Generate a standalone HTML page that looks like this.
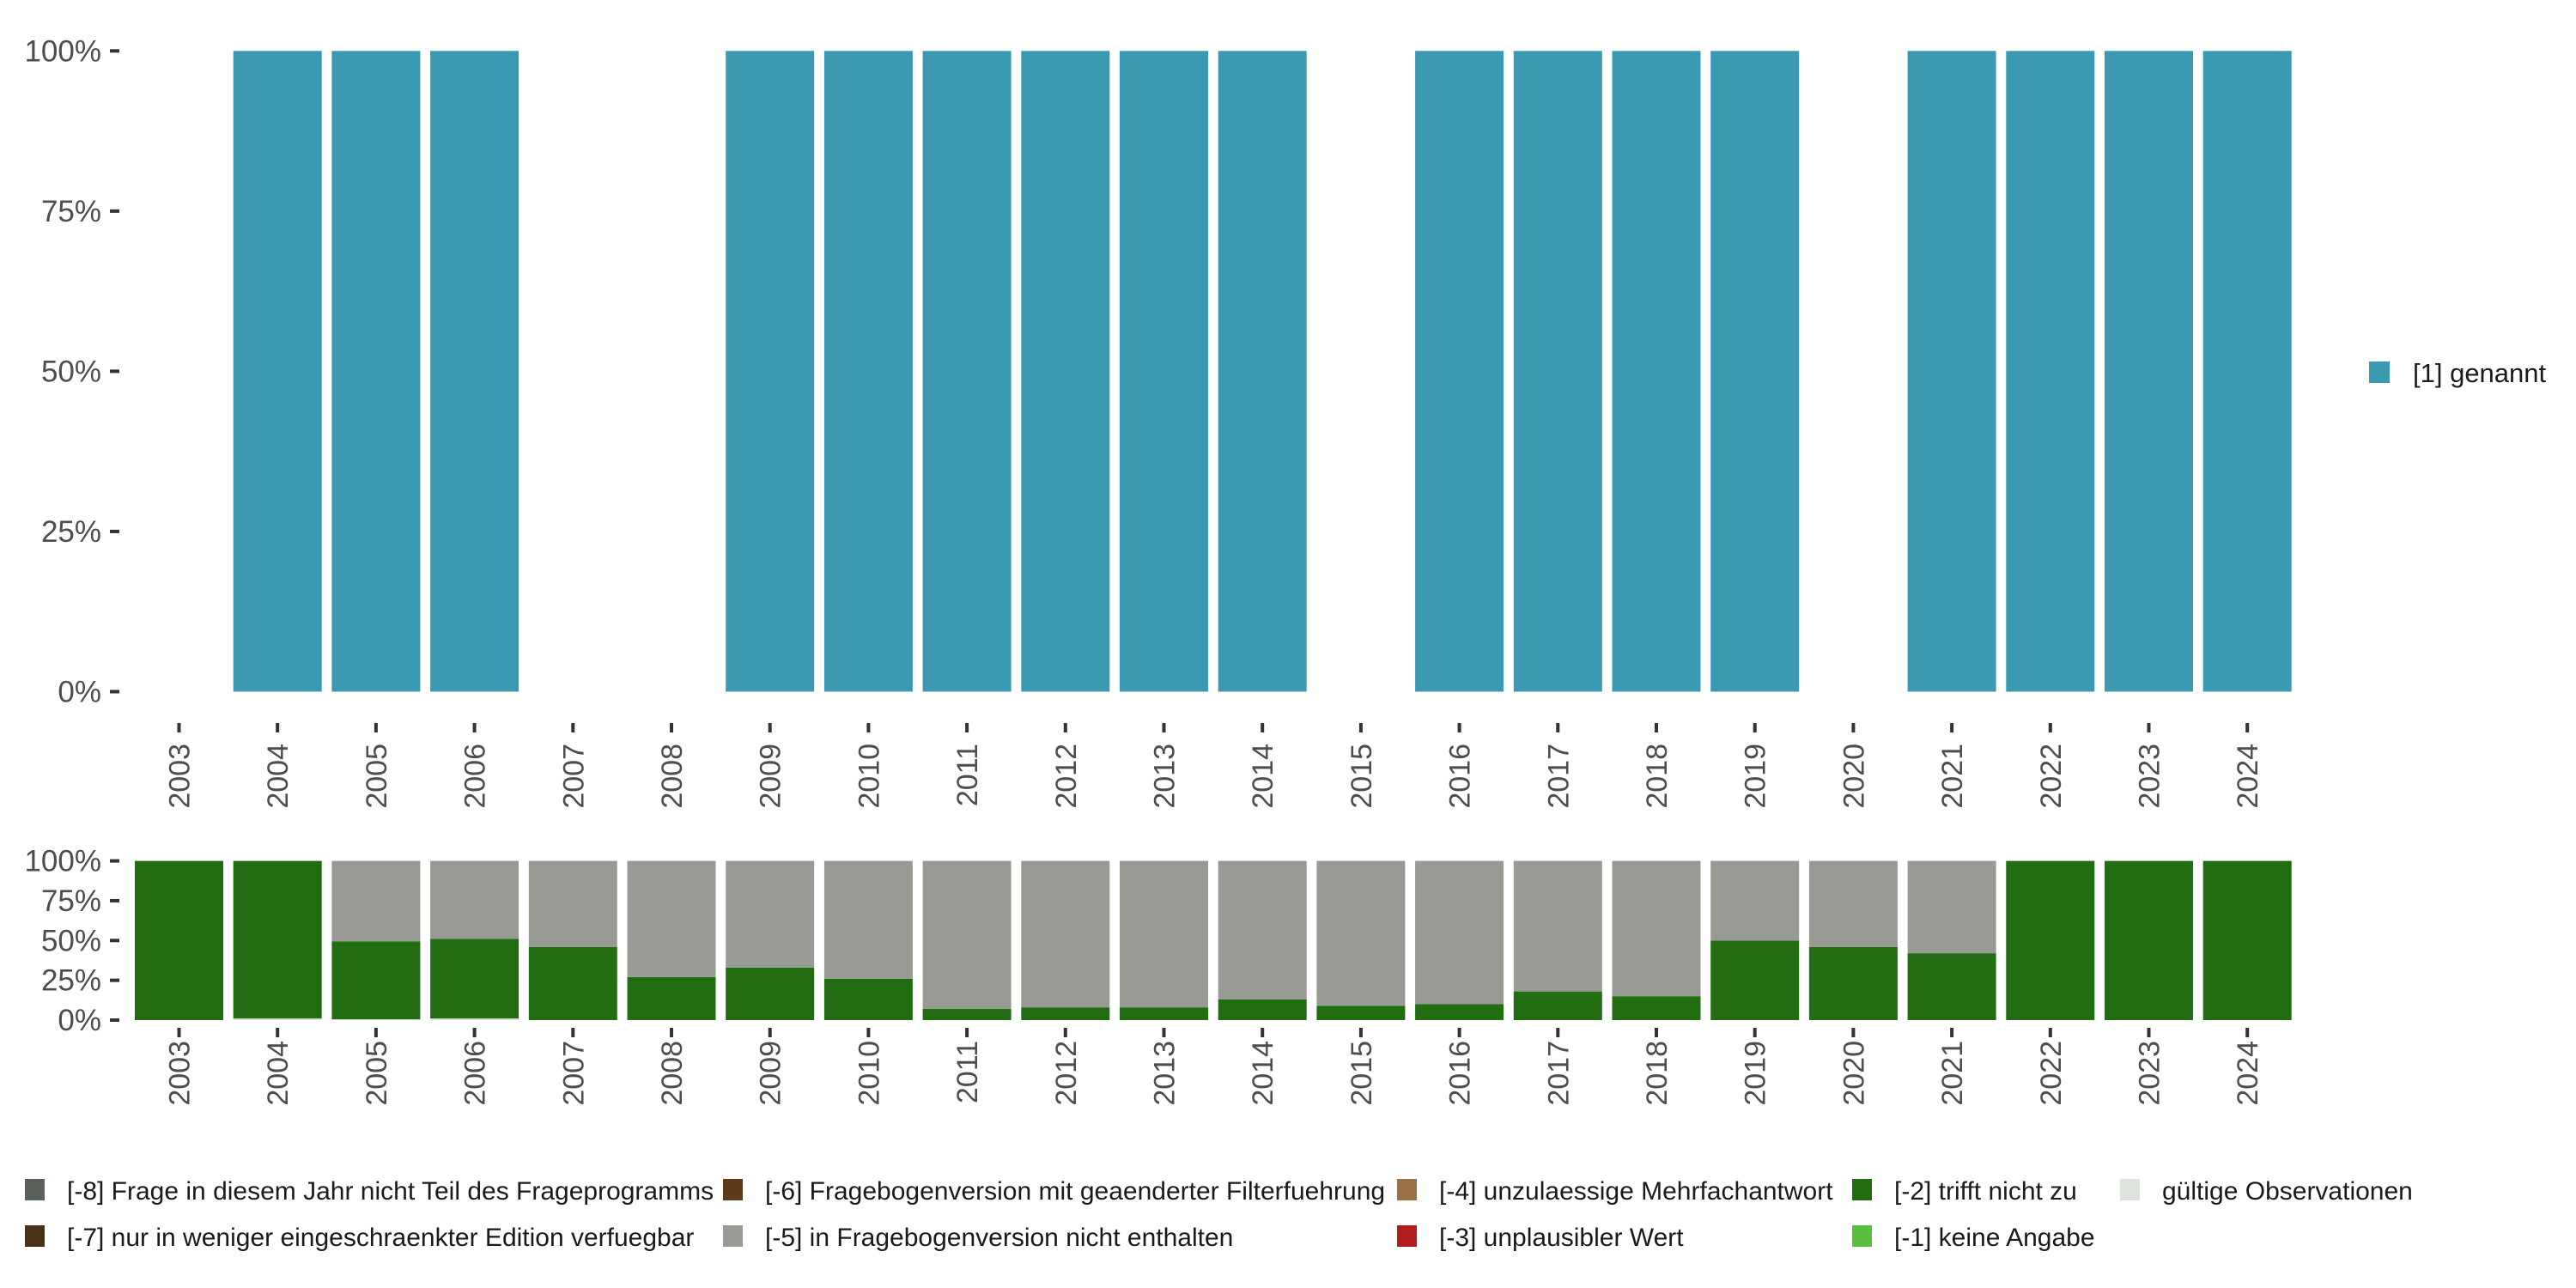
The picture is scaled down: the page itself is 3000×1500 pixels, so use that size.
<!DOCTYPE html>
<html><head><meta charset="utf-8"><style>
html,body{margin:0;padding:0;background:#fff;}
svg{display:block;font-family:"Liberation Sans",sans-serif;}
</style></head><body>
<svg id="c" width="3000" height="1500" viewBox="0 0 3000 1500" xmlns="http://www.w3.org/2000/svg"></svg>
<script>
const years=["2003","2004","2005","2006","2007","2008","2009","2010","2011","2012","2013","2014","2015","2016","2017","2018","2019","2020","2021","2022","2023","2024"];
const genannt=[0,100,100,100,0,0,100,100,100,100,100,100,0,100,100,100,100,0,100,100,100,100];
const valid=[0,1,0.5,1,0,0,0,0,0,0,0,0,0,0,0,0,0,0,0,0,0,0];
const trifftNicht=[100,99,49,50,46,27,33,26,7,8,8,13,9,10,18,15,50,46,42,100,100,100];
const nichtEnthalten=[0,0,50.5,49,54,73,67,74,93,92,92,87,91,90,82,85,50,54,58,0,0,0];
const yTicks=[0,25,50,75,100];
const legendItems=[
 ["[-8] Frage in diesem Jahr nicht Teil des Frageprogramms","#5a615b",0,0],
 ["[-7] nur in weniger eingeschraenkter Edition verfuegbar","#4a3218",0,1],
 ["[-6] Fragebogenversion mit geaenderter Filterfuehrung","#5c3a1a",1,0],
 ["[-5] in Fragebogenversion nicht enthalten","#989b94",1,1],
 ["[-4] unzulaessige Mehrfachantwort","#9a7047",2,0],
 ["[-3] unplausibler Wert","#b21c1c",2,1],
 ["[-2] trifft nicht zu","#226c11",3,0],
 ["[-1] keine Angabe","#5abf3e",3,1],
 ["gültige Observationen","#dfe3dd",4,0]
];
const svg=document.getElementById('c');
const NS="http://www.w3.org/2000/svg";
function mk(t,a,p){const e=document.createElementNS(NS,t);for(const k in a)e.setAttribute(k,a[k]);(p||svg).appendChild(e);return e;}
const x0=208.5,pitch=114.7,bw=103;
function xs(i){return x0+i*pitch;}
function ysTop(v){return 805.5-(v/100)*746.2;}
function ysBot(v){return 1188-(v/100)*185.4;}
yTicks.forEach(v=>{
 const y=ysTop(v);
 const t=mk('text',{x:118,y:y+12,'text-anchor':'end','font-size':35,fill:'#4d4d4d'});t.textContent=v+'%';
 
 
 const l=mk('line',{x1:128,x2:139,y1:y,y2:y,stroke:'#333',"stroke-width":4});
 
 
});
years.forEach((yr,i)=>{
 const cx=xs(i);
 if(genannt[i]>0){
  const r=mk('rect',{x:cx-bw/2,y:ysTop(genannt[i]),width:bw,height:ysTop(0)-ysTop(genannt[i]),fill:'#3c99b2'});
  
  
 }
 const l=mk('line',{x1:cx,x2:cx,y1:842,y2:853,stroke:'#333',"stroke-width":4});
 
 
 const t=mk('text',{x:0,y:0,'text-anchor':'end','font-size':34,fill:'#4d4d4d',transform:`translate(${cx+12},866) rotate(-90)`});t.textContent=yr;
 
 
 let base=0;
 [[valid,'#dfe3dd','valid'],[trifftNicht,'#226c11','trifft-nicht-zu'],[nichtEnthalten,'#989b94','nicht-enthalten']].forEach(([arr,col,nm])=>{
  const v=arr[i]; if(v<=0)return;
  const r=mk('rect',{x:cx-bw/2,y:ysBot(base+v),width:bw,height:ysBot(base)-ysBot(base+v),fill:col});
  
  
  base+=v;
 });
 const l2=mk('line',{x1:cx,x2:cx,y1:1197,y2:1208,stroke:'#333',"stroke-width":4});
 
 
 const t2=mk('text',{x:0,y:0,'text-anchor':'end','font-size':34,fill:'#4d4d4d',transform:`translate(${cx+12},1212) rotate(-90)`});t2.textContent=yr;
 
 
});
yTicks.forEach(v=>{
 const y=ysBot(v);
 const t=mk('text',{x:118,y:y+12,'text-anchor':'end','font-size':35,fill:'#4d4d4d'});t.textContent=v+'%';
 
 
 const l=mk('line',{x1:128,x2:139,y1:y,y2:y,stroke:'#333',"stroke-width":4});
 
 
});
const lg=mk('rect',{x:2759,y:421,width:24,height:25,fill:'#3c99b2'});


const lt=mk('text',{x:2810,y:445,'font-size':31,fill:'#1a1a1a'});lt.textContent='[1] genannt';


const colX=[29,842,1627,2157,2469];
const rowY=[1386,1440];
legendItems.forEach(([txt,col,c,r])=>{
 const k=mk('rect',{x:colX[c],y:rowY[r]-13,width:23,height:25,fill:col});
 
 
 const t=mk('text',{x:colX[c]+49,y:rowY[r]+11,'font-size':30,fill:'#1a1a1a'});t.textContent=txt;
 
 
});
</script>
</body></html>
